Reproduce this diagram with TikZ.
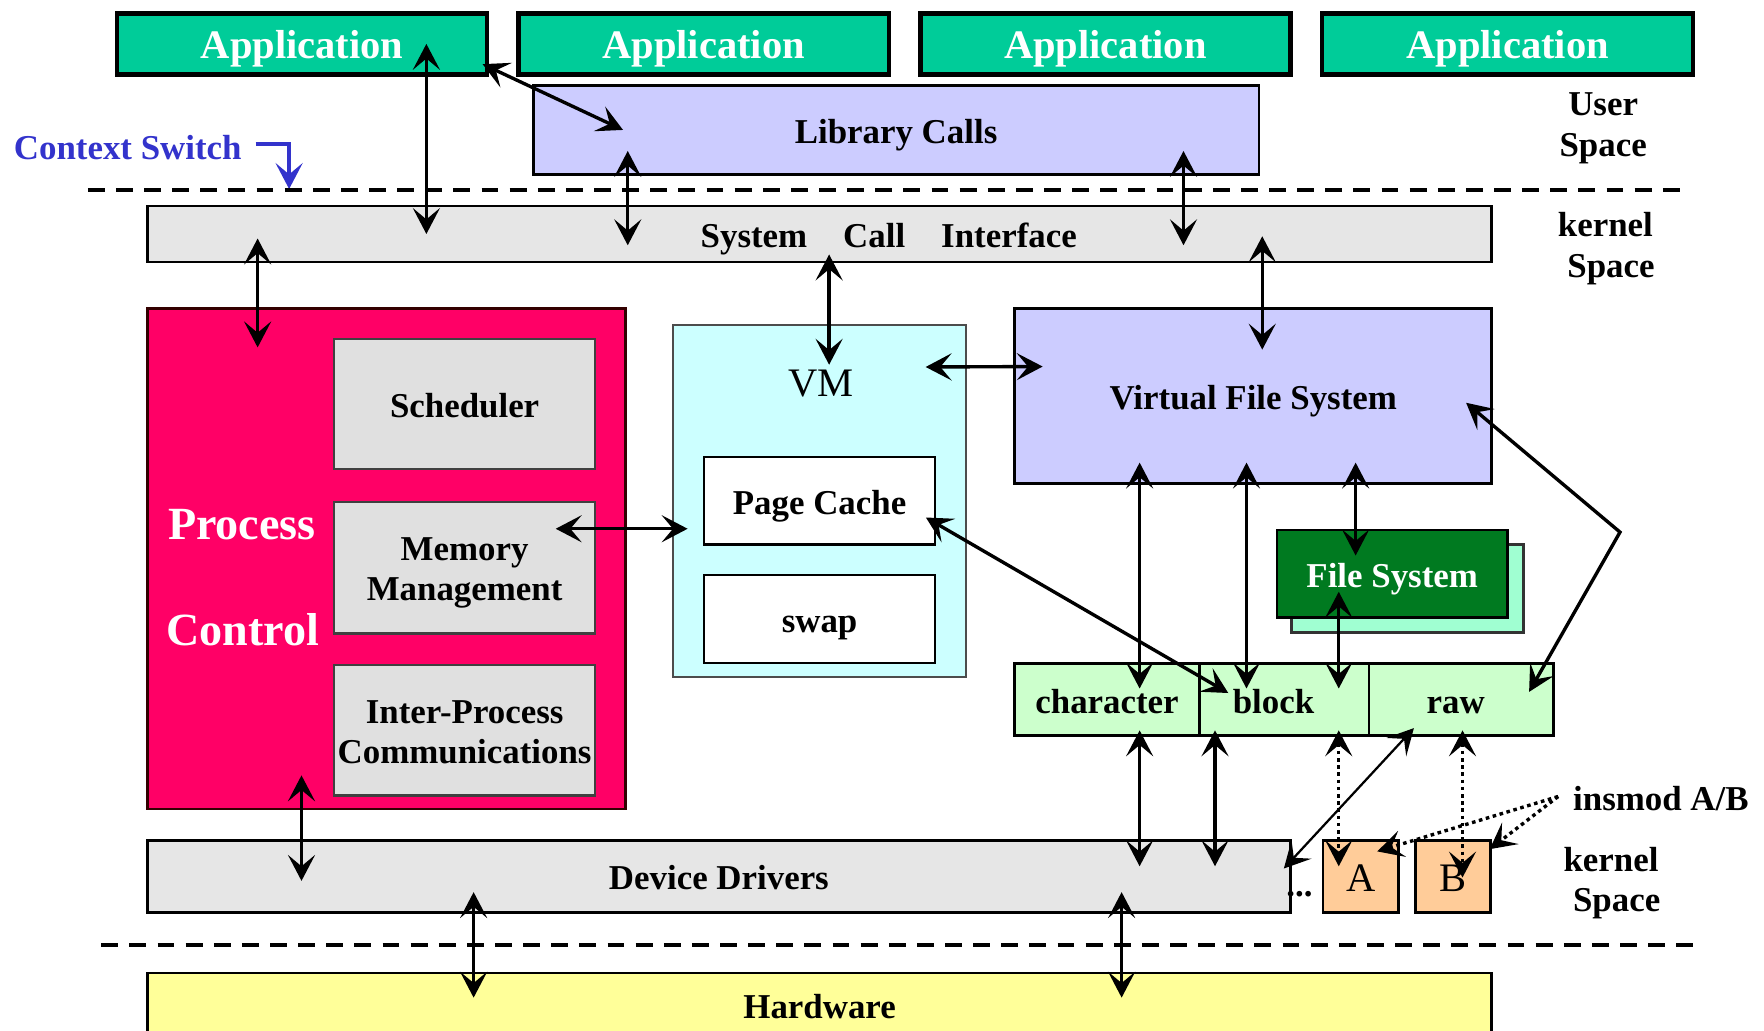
\documentclass[tikz,border=0pt]{standalone}
\usepackage{fontspec}
\setmainfont{Liberation Serif}
\usetikzlibrary{arrows.meta,calc}

\definecolor{appgreen}{RGB}{0,204,153}
\definecolor{lavender}{RGB}{204,204,255}
\definecolor{barfill}{RGB}{230,230,230}
\definecolor{subfill}{RGB}{224,224,224}
\definecolor{pcred}{RGB}{255,0,102}
\definecolor{vmcyan}{RGB}{204,255,255}
\definecolor{fsdark}{RGB}{0,122,32}
\definecolor{fsmint}{RGB}{160,255,210}
\definecolor{devgreen}{RGB}{204,255,204}
\definecolor{modpeach}{RGB}{255,204,153}
\definecolor{hwyellow}{RGB}{255,255,153}
\definecolor{csblue}{RGB}{51,51,204}

\newcommand\labfont{\fontsize{15.5}{18}\selectfont\bfseries}
% \mkbox{style}{name}{x1}{y1}{x2}{y2}{text}: rectangle node spanning the given corners
\newcommand\mkbox[7]{\node[#1,minimum width={(#5-#3)*0.5pt},minimum height={(#6-#4)*0.5pt}]
  (#2) at ({(#3+#5)/2},{(#4+#6)/2}) {#7};}

\begin{document}
\begin{tikzpicture}[x=0.5pt,y=-0.5pt,
  >={Stealth[length=11.5pt,width=12pt,inset=5pt]},
  kbox/.style={draw=black,line width=1.2pt,inner sep=0pt,font=\labfont,align=center,
    text height=12pt,text depth=0pt},
  appbox/.style={kbox,fill=appgreen,line width=2pt,text=white,text height=13pt,
    font=\fontsize{18}{20}\selectfont\bfseries},
  subbox/.style={kbox,line width=1pt,draw=black!75},
  twoline/.style={text height={},text depth={}},
  lab/.style={inner sep=0pt,font=\labfont,align=center},
  dlink/.style={<->,line width=1.5pt},
  dotlink/.style={<->,line width=1.5pt,dash pattern=on 1.6pt off 1.6pt},
  sepline/.style={line width=1.8pt,dash pattern=on 7.5pt off 5pt}]

\useasboundingbox (0,0) rectangle (1568,916);
\fill[white] (0,0) rectangle (1568,916);

% user space
\mkbox{appbox}{app1}{104}{12}{433}{66}{Application}
\mkbox{appbox}{app2}{461}{12}{790}{66}{Application}
\mkbox{appbox}{app3}{818}{12}{1147}{66}{Application}
\mkbox{appbox}{app4}{1175}{12}{1505}{66}{Application}
\mkbox{kbox,fill=lavender}{lib}{474}{76}{1119}{155}{Library Calls}

\node[lab] (userspace) at (1425,114) {User\\Space};
\node[lab,anchor=west,text=csblue] (cs) at (12,131) {Context Switch};
\coordinate (cstip) at (257,168);
\draw[csblue,line width=1.5pt,-{Stealth[length=11.5pt,width=12pt,inset=5pt]}]
  ($(cs.east)+(12,-3)$) -| (cstip);

\draw[sepline] (78,169) -- (1495,169);

% kernel
\mkbox{kbox,fill=barfill}{sci}{131}{183}{1326}{233}{}
\node[lab] (scitext) at (790,212) {System\hspace{16pt}Call\hspace{16pt}Interface};
\node[lab] (kspace1) at (1427,221) {kernel\\\hspace*{5pt}Space};

\mkbox{kbox,fill=pcred,draw=black!80!red}{pc}{131}{274}{556}{719}{}
\node[lab,text=white,font=\fontsize{20.5}{24}\selectfont\bfseries] (pctext1) at (215,466) {Process};
\node[lab,text=white,font=\fontsize{20.5}{24}\selectfont\bfseries] (pctext2) at (216,560) {Control};
\mkbox{subbox,fill=subfill}{sched}{297}{301}{529}{417}{Scheduler}
\mkbox{subbox,twoline,fill=subfill}{mm}{297}{446}{529}{563}{\rule{0pt}{15pt}Memory\\Management}
\mkbox{subbox,twoline,fill=subfill}{ipc}{297}{591}{529}{707}{\rule{0pt}{12pt}Inter-Process\\Communications}

\mkbox{kbox,line width=0.8pt,draw=black!70,fill=vmcyan}{vm}{598}{289}{859}{602}{}
\node[lab,font=\fontsize{18}{20}\selectfont] (vmtext) at (730,341) {VM};
\mkbox{subbox,draw=black,fill=white}{pcache}{626}{406}{831}{484}{Page Cache}
\mkbox{subbox,draw=black,fill=white}{swap}{626}{511}{831}{589}{swap}

\mkbox{kbox,fill=lavender}{vfs}{902}{274}{1326}{430}{Virtual File System}
\mkbox{kbox,draw=black!80,fill=fsmint}{fsback}{1148}{484}{1354}{562}{}
\mkbox{kbox,fill=fsdark,text=white}{fs}{1135}{471}{1340}{549}{File System}

\mkbox{kbox,fill=devgreen}{chr}{902}{590}{1066}{654}{character}
\mkbox{kbox,fill=devgreen}{blk}{1066}{590}{1217}{654}{\hspace*{-9.5pt}block}
\mkbox{kbox,fill=devgreen}{raw}{1217}{590}{1381}{654}{\hspace*{-5pt}raw}

\mkbox{kbox,fill=barfill}{dd}{131}{747}{1147}{811}{Device Drivers}
\node[lab] (ddots) at (1155,795) {...};
\mkbox{kbox,fill=modpeach,text height=13pt,font=\fontsize{18}{20}\selectfont}{modA}{1176}{747}{1243}{811}{A}
\mkbox{kbox,fill=modpeach,text height=13pt,font=\fontsize{18}{20}\selectfont}{modB}{1258}{747}{1325}{811}{B}
\node[lab,anchor=west] (insmod) at (1398,710) {insmod A/B};
\node[lab] (kspace2) at (1432,785) {kernel\\\hspace*{5pt}Space};

\draw[sepline] (90,840) -- (1505,840);

\mkbox{kbox,fill=hwyellow}{hw}{131}{865}{1326}{922}{Hardware}

% connectors
\draw[dlink] (app1.center -| 379,0) -- (sci.center -| 379,0);
\draw[dlink] ($(app1.south east)+(-6,-11)$) -- ($(lib.west)+(81,0)$);
\draw[dlink] ($(lib.south -| 558,0)+(0,-22)$) -- ($(sci.center -| 558,0)+(0,10)$);
\draw[dlink] ($(lib.south -| 1052,0)+(0,-22)$) -- ($(sci.center -| 1052,0)+(0,10)$);
\draw[dlink] ($(sci.center -| 229,0)+(0,4)$) -- ($(pc.north -| 229,0)+(0,36)$);
\draw[dlink] ($(sci.south -| 737,0)+(0,-8)$) -- ($(vm.north -| 737,0)+(0,36)$);
\draw[dlink] ($(sci.center -| 1122,0)+(0,2)$) -- ($(vfs.north -| 1122,0)+(0,38)$);
\draw[dlink] ($(vm.north east)+(-37,38)$) -- ($(vfs.north west)+(26,53)$);
\draw[dlink] ($(mm.east)+(-36,-34.5)$) -- ($(vm.west)+(14,24.5)$);
\draw[dlink] ($(pcache.east)+(-9,15)$) -- ($(blk.west)+(27,-6)$);
\draw[dlink] ($(vfs.south -| 1013,0)+(0,-20)$) -- ($(chr.center -| 1013,0)+(0,-10)$);
\draw[dlink] ($(vfs.south -| 1108,0)+(0,-20)$) -- ($(blk.center -| 1108,0)+(0,-10)$);
\draw[dlink] ($(vfs.south -| 1205,0)+(0,-20)$) -- ($(fs.north -| 1205,0)+(0,24)$);
\draw[dlink] ($(fs.center -| 1190,0)+(0,16)$) -- ($(blk.center -| 1190,0)+(0,-10)$);
\coordinate (bend) at (1440,473);
\draw[dlink] ($(vfs.east)+(-24,6)$) -- (bend) -- ($(raw.east)+(-23,-7)$);
\draw[dlink] ($(chr.south -| 1013,0)+(0,-6)$) -- ($(dd.center -| 1013,0)+(0,-9)$);
\draw[dlink] ($(blk.south -| 1080,0)+(0,-6)$) -- ($(dd.center -| 1080,0)+(0,-9)$);
\draw[dotlink] ($(blk.south -| 1190,0)+(0,-6)$) -- ($(modA.center -| 1190,0)+(0,-9)$);
\draw[dotlink] ($(raw.south -| 1300,0)+(0,-6)$) -- ($(modB.center -| 1300,0)+(0,1)$);
\draw[<->,line width=1pt] ($(raw.south west)+(41,-8)$) -- ($(dd.east)+(-7,-7)$);
\draw[dlink] ($(pc.south -| 268,0)+(0,-31)$) -- ($(dd.center -| 268,0)+(0,4)$);
\draw[dlink] ($(dd.center -| 421,0)+(0,14)$) -- ($(hw.north -| 421,0)+(0,23)$);
\draw[dlink] ($(dd.center -| 997,0)+(0,14)$) -- ($(hw.north -| 997,0)+(0,23)$);
\draw[dotlink,-{Stealth[length=11.5pt,width=12pt,inset=5pt]}]
  ($(insmod.west)+(-13,-2)$) -- ($(modA.north east)+(-20,11)$);
\draw[dotlink,-{Stealth[length=11.5pt,width=12pt,inset=5pt]}]
  ($(insmod.west)+(-13,-2)$) -- ($(modB.north east)+(-2,9)$);
\end{tikzpicture}
\end{document}
